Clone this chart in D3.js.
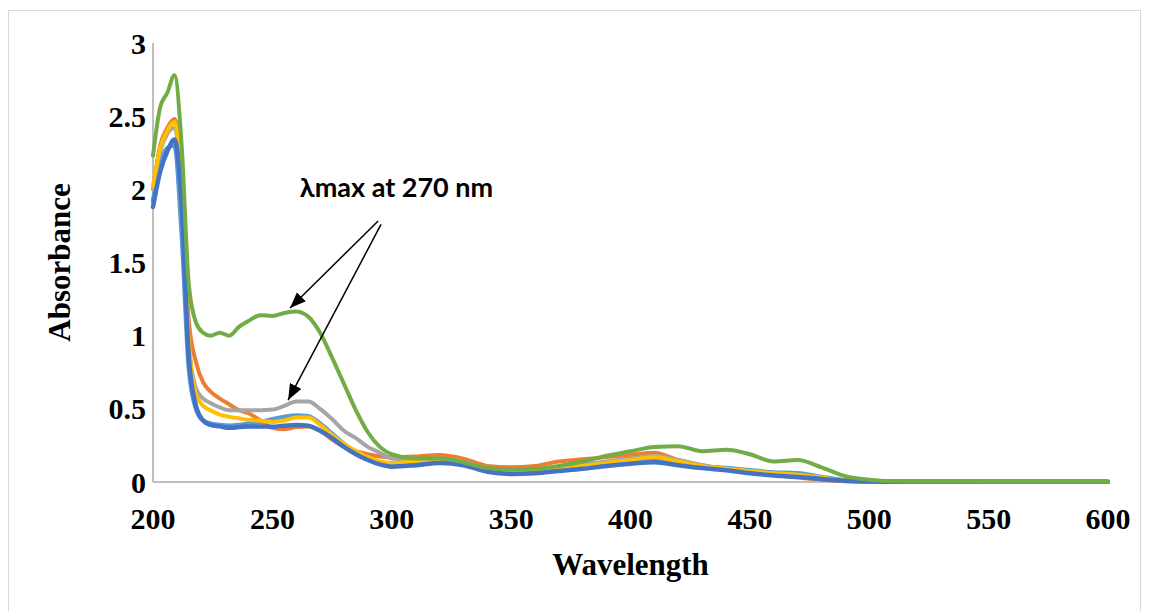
<!DOCTYPE html>
<html>
<head>
<meta charset="utf-8">
<script src="https://cdn.jsdelivr.net/npm/d3@7"></script>
<style>
  body { margin: 0; background: #fff; }
  .tick-label { font-family: 'Liberation Serif', 'Times New Roman', serif; font-weight: bold; font-size: 30px; fill: #000; }
  .axis-title { font-family: 'Liberation Serif', 'Times New Roman', serif; font-weight: bold; font-size: 31px; fill: #000; }
  .note { font-family: Lato, 'Open Sans', sans-serif; font-weight: bold; font-size: 27px; fill: #000; }
</style>
</head>
<body>
<div id="chart"></div>
<script>
// wavelength grid (nm)
let wavelength = [200, 203, 206, 209, 212, 215, 218, 221, 224, 228, 232, 236, 240, 245, 250, 255, 260, 265, 270, 275,
  280, 285, 290, 295, 300, 310, 320, 330, 340, 350, 360, 370, 380, 390, 400, 410, 420, 430, 440, 450,
  460, 470, 480, 490, 500, 510, 520, 540, 560, 580, 600]

let lightBlue = [1.92, 2.18, 2.28, 2.30, 1.70, 0.78, 0.50, 0.42, 0.40, 0.39, 0.385, 0.39, 0.40, 0.41, 0.43, 0.445, 0.455, 0.45, 0.40, 0.33,
  0.26, 0.20, 0.16, 0.13, 0.115, 0.12, 0.135, 0.12, 0.08, 0.065, 0.07, 0.085, 0.10, 0.12, 0.135, 0.145, 0.125, 0.105, 0.095, 0.08,
  0.065, 0.06, 0.035, 0.012, 0.004, 0.002, 0.001, 0.001, 0.001, 0.001, 0.001]

let orange = [2.00, 2.30, 2.42, 2.48, 2.10, 1.10, 0.82, 0.68, 0.62, 0.57, 0.53, 0.49, 0.47, 0.42, 0.37, 0.36, 0.375, 0.38, 0.35, 0.29,
  0.24, 0.21, 0.19, 0.175, 0.17, 0.175, 0.185, 0.16, 0.11, 0.10, 0.11, 0.14, 0.155, 0.17, 0.185, 0.20, 0.15, 0.115, 0.09, 0.07,
  0.05, 0.03, 0.015, 0.005, 0.002, 0.001, 0.001, 0.001, 0.001, 0.001, 0.001]

let gray = [2.00, 2.26, 2.38, 2.42, 2.00, 0.95, 0.64, 0.57, 0.54, 0.51, 0.49, 0.49, 0.49, 0.49, 0.495, 0.52, 0.55, 0.55, 0.50, 0.43,
  0.35, 0.30, 0.24, 0.20, 0.16, 0.15, 0.16, 0.14, 0.09, 0.08, 0.085, 0.10, 0.12, 0.14, 0.16, 0.18, 0.15, 0.115, 0.09, 0.075,
  0.06, 0.045, 0.025, 0.008, 0.003, 0.001, 0.001, 0.001, 0.001, 0.001, 0.001]

let yellow = [2.02, 2.28, 2.40, 2.46, 2.00, 0.95, 0.60, 0.52, 0.49, 0.46, 0.445, 0.435, 0.425, 0.42, 0.41, 0.42, 0.44, 0.44, 0.39, 0.32,
  0.26, 0.21, 0.17, 0.14, 0.13, 0.14, 0.15, 0.13, 0.085, 0.075, 0.08, 0.095, 0.11, 0.13, 0.15, 0.17, 0.14, 0.11, 0.09, 0.075,
  0.06, 0.05, 0.03, 0.01, 0.003, 0.001, 0.001, 0.001, 0.001, 0.001, 0.001]

let darkBlue = [1.88, 2.12, 2.26, 2.34, 1.90, 0.85, 0.52, 0.42, 0.39, 0.38, 0.37, 0.375, 0.38, 0.38, 0.378, 0.385, 0.39, 0.385, 0.35, 0.30,
  0.24, 0.19, 0.15, 0.12, 0.105, 0.115, 0.13, 0.115, 0.07, 0.055, 0.06, 0.075, 0.09, 0.11, 0.125, 0.135, 0.115, 0.095, 0.08, 0.06,
  0.045, 0.035, 0.02, 0.008, 0.003, 0.001, 0.001, 0.001, 0.001, 0.001, 0.001]

let green = [2.23, 2.56, 2.66, 2.78, 2.30, 1.35, 1.09, 1.02, 1.00, 1.02, 1.00, 1.06, 1.10, 1.14, 1.135, 1.155, 1.165, 1.13, 1.02, 0.85,
  0.67, 0.49, 0.34, 0.24, 0.19, 0.16, 0.16, 0.135, 0.095, 0.085, 0.09, 0.11, 0.14, 0.18, 0.21, 0.24, 0.245, 0.21, 0.22, 0.19,
  0.14, 0.15, 0.10, 0.04, 0.015, 0.005, 0.003, 0.003, 0.002, 0.002, 0.002]

let xTicks = [200, 250, 300, 350, 400, 450, 500, 550, 600]
let yTicks = [0, 0.5, 1, 1.5, 2, 2.5, 3]

// annotation: label anchor and arrow [start, tip] in data units
let noteText = 'λmax at 270 nm'
let notePos = [302, 1.95]
let arrows = [
  [[294.3, 1.784], [257.4, 1.189]],
  [[295.5, 1.76], [256.6, 0.56]]
]

let series = [
  { name: 'light blue', color: '#5B9BD5', width: 4.5, values: lightBlue },
  { name: 'orange', color: '#ED7D31', width: 4, values: orange },
  { name: 'gray', color: '#A5A5A5', width: 4, values: gray },
  { name: 'yellow', color: '#FFC000', width: 4, values: yellow },
  { name: 'dark blue', color: '#4472C4', width: 4.5, values: darkBlue },
  { name: 'green', color: '#70AD47', width: 4, values: green }
]

let margin = { top: 43, left: 153, right: 41, bottom: 129 }
let fullWidth = 1149
let fullHeight = 611
let width = fullWidth - margin.left - margin.right
let height = fullHeight - margin.top - margin.bottom

let root = d3
  .select('#chart')
  .append('svg')
  .attr('width', fullWidth)
  .attr('height', fullHeight)

// outer chart border
root
  .append('rect')
  .attr('x', 8.5)
  .attr('y', 10.5)
  .attr('width', 1132)
  .attr('height', 620)
  .attr('fill', 'none')
  .attr('stroke', '#d9d9d9')

let svg = root
  .append('g')
  .attr('transform', 'translate(' + margin.left + ',' + margin.top + ')')

let x = d3.scaleLinear().domain([200, 600]).range([0, width])
let y = d3.scaleLinear().domain([0, 3]).range([height, 0])

// axis lines
svg
  .append('line')
  .attr('x1', 0)
  .attr('x2', 0)
  .attr('y1', 0)
  .attr('y2', height)
  .attr('stroke', '#bfbfbf')
  .attr('stroke-width', 2)

svg
  .append('line')
  .attr('x1', 0)
  .attr('x2', width)
  .attr('y1', height)
  .attr('y2', height)
  .attr('stroke', '#bfbfbf')
  .attr('stroke-width', 2)

// tick labels
svg
  .selectAll('.xlab')
  .data(xTicks)
  .enter()
  .append('text')
  .attr('class', 'tick-label')
  .attr('x', d => x(d))
  .attr('y', height + 47)
  .attr('text-anchor', 'middle')
  .text(d => d)

svg
  .selectAll('.ylab')
  .data(yTicks)
  .enter()
  .append('text')
  .attr('class', 'tick-label')
  .attr('x', -7)
  .attr('y', d => y(d))
  .attr('dy', '0.35em')
  .attr('text-anchor', 'end')
  .text(d => d)

// axis titles
svg
  .append('text')
  .attr('class', 'axis-title')
  .attr('x', width / 2)
  .attr('y', height + 93)
  .attr('text-anchor', 'middle')
  .text('Wavelength')

svg
  .append('text')
  .attr('class', 'axis-title')
  .attr('transform', 'translate(' + -83 + ',' + height / 2 + ') rotate(-90)')
  .attr('text-anchor', 'middle')
  .text('Absorbance')

// spectra
let line = d3
  .line()
  .x((d, i) => x(wavelength[i]))
  .y(d => y(d))
  .curve(d3.curveMonotoneX)

svg
  .selectAll('.spectrum')
  .data(series)
  .enter()
  .append('path')
  .attr('class', 'spectrum')
  .attr('d', d => line(d.values))
  .attr('fill', 'none')
  .attr('stroke', d => d.color)
  .attr('stroke-width', d => d.width)
  .attr('stroke-linejoin', 'round')
  .attr('stroke-linecap', 'round')

// annotation
svg
  .append('defs')
  .append('marker')
  .attr('id', 'arrowhead')
  .attr('viewBox', '0 0 10 8')
  .attr('refX', 10)
  .attr('refY', 4)
  .attr('markerWidth', 16)
  .attr('markerHeight', 13)
  .attr('markerUnits', 'userSpaceOnUse')
  .attr('orient', 'auto')
  .append('path')
  .attr('d', 'M0,0 L10,4 L0,8 Z')
  .attr('fill', '#000')

svg
  .selectAll('.arrow')
  .data(arrows)
  .enter()
  .append('line')
  .attr('class', 'arrow')
  .attr('x1', d => x(d[0][0]))
  .attr('y1', d => y(d[0][1]))
  .attr('x2', d => x(d[1][0]))
  .attr('y2', d => y(d[1][1]))
  .attr('stroke', '#000')
  .attr('stroke-width', 1.5)
  .attr('marker-end', 'url(#arrowhead)')

svg
  .append('text')
  .attr('class', 'note')
  .attr('x', x(notePos[0]))
  .attr('y', y(notePos[1]))
  .attr('text-anchor', 'middle')
  .text(noteText)
</script>
</body>
</html>
